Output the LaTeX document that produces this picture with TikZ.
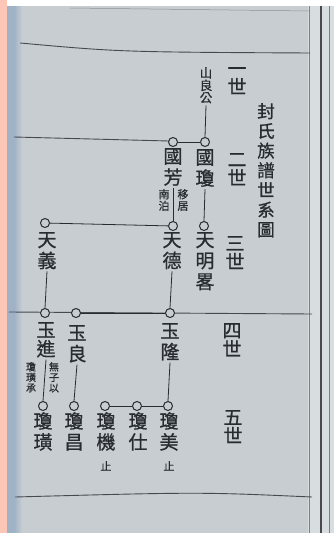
\documentclass[tikz,border=0pt]{standalone}
\usepackage{fontspec}
\newfontfamily\cjk[FakeBold=0.8]{Noto Sans CJK TC}
\definecolor{paper}{RGB}{199,205,209}
\definecolor{ink}{RGB}{40,44,48}
\definecolor{salmon}{RGB}{252,199,182}
\definecolor{edgeblue}{RGB}{160,178,198}
\definecolor{pageedge}{RGB}{216,221,224}
\definecolor{ruleink}{RGB}{70,74,78}
\tikzset{
  person/.style={font=\cjk\fontsize{19}{21}\selectfont, align=center, inner sep=0pt, anchor=north, text=ink},
  genlabel/.style={font=\cjk\fontsize{19}{18.5}\selectfont, align=center, inner sep=0pt, anchor=north, text=ink},
  titletext/.style={font=\cjk\fontsize{17.5}{19.7}\selectfont, align=center, inner sep=0pt, anchor=north, text=ink},
  smallnote/.style={font=\cjk\fontsize{11}{11.5}\selectfont, align=center, inner sep=0pt, anchor=north, text=ink},
  dot/.style={circle, draw=ink, line width=1pt, minimum size=9pt, inner sep=0pt, fill=paper},
  link/.style={draw=ink, line width=0.8pt},
  pagerule/.style={draw=ruleink, line width=0.9pt}
}
\begin{document}
\begin{tikzpicture}[x=1pt, y=-1pt]
  \useasboundingbox (0,0) rectangle (334,533);
  % Page background
  \fill[white] (0,0) rectangle (334,533);
  \fill[paper] (7,6) rectangle (334,533);
  \fill[edgeblue] (7,6) rectangle (14,533);
  \shade[left color=edgeblue, right color=paper] (14,6) rectangle (22,533);
  \fill[pageedge] (308,6) rectangle (334,533);
  \fill[salmon] (0,0) rectangle (7,533);
  \draw[ruleink, line width=1.6pt] (321,6) -- (321,533);
  \draw[ruleink!70, line width=0.5pt] (309,6) -- (309,533);
  \draw[ruleink!70, line width=0.5pt] (329,6) -- (329,533);
  % Ruled lines of the page
  \draw[pagerule] (20,43) .. controls (120,52) .. (310,53);
  \draw[ruleink!60, line width=0.5pt] (70,8) -- (310,11);
  \draw[pagerule] (9,312) -- (312,314);
  \draw[pagerule] (15,497) .. controls (200,492) .. (312,497);

  % Generation labels and title
  \node[genlabel] (g1) at (237,67) {一\\世};
  \node[genlabel] (g2) at (237,153) {二\\世};
  \node[genlabel] (g3) at (235,236) {三\\世};
  \node[genlabel] (g4) at (232,323) {四\\世};
  \node[genlabel] (g5) at (233,410) {五\\世};
  \node[titletext] (title) at (266,103) {封\\氏\\族\\譜\\世\\系\\圖};

  % First generation
  \node[smallnote, font=\cjk\fontsize{12.5}{11}\selectfont] (shan) at (206,67) {山\\良\\公};

  % Second generation
  \draw[pagerule] (14,137) -- (169,141);
  \node[dot] (c2a) at (173,142) {};
  \node[dot] (c2b) at (205,142) {};
  \node[person] (guofang) at (173,148) {國\\芳};
  \node[person] (guoqiong) at (205,149) {國\\瓊};
  \node[smallnote] (yiju) at (183,189) {移\\居};
  \node[smallnote] (nanbo) at (164,189) {南\\泊};

  % Third generation
  \node[dot] (c3a) at (45,223) {};
  \node[dot] (c3b) at (173,226) {};
  \node[dot] (c3c) at (204,226) {};
  \node[person] (tianyi) at (47,232) {天\\義};
  \node[person] (tiande) at (172,232) {天\\德};
  \node[person] (tianming) at (205,232) {天\\明\\畧};

  % Fourth generation
  \node[dot] (c4a) at (45,313) {};
  \node[dot] (c4b) at (76,313) {};
  \node[dot] (c4c) at (170,313) {};
  \node[person, font=\cjk\fontsize{19}{19}\selectfont] (yujin) at (46,322) {玉\\進};
  \node[person] (yuliang) at (77,325) {玉\\良};
  \node[person] (yulong) at (170,323) {玉\\隆};
  \node[smallnote, font=\cjk\fontsize{10}{10.5}\selectfont] (wuzi) at (54,362) {無\\子\\以};
  \node[smallnote, font=\cjk\fontsize{10}{10.5}\selectfont] (chengji) at (31,362) {瓊\\璜\\承};

  % Fifth generation
  \node[dot] (c5a) at (43,406) {};
  \node[dot] (c5b) at (74,406) {};
  \node[dot] (c5c) at (105,406) {};
  \node[dot] (c5d) at (137,406) {};
  \node[dot] (c5e) at (168,406) {};
  \node[person] (qhuang) at (43,412) {瓊\\璜};
  \node[person] (qchang) at (74,412) {瓊\\昌};
  \node[person] (qji) at (106,412) {瓊\\機};
  \node[person] (qshi) at (138,412) {瓊\\仕};
  \node[person] (qmei) at (169,412) {瓊\\美};
  \node[smallnote] (zhi1) at (106,461) {止};
  \node[smallnote] (zhi2) at (169,461) {止};

  % Lines of descent
  \draw[link] ([yshift=-2pt]shan.south) -- (c2b.north);
  \draw[link] (c2a) -- (c2b);
  \draw[link] ([yshift=-2pt]guofang.south) -- (c3b.north);
  \draw[link] ([yshift=-2pt]guoqiong.south) -- (c3c.north);
  \draw[link] (c3a) -- (c3b);
  \draw[link] ([yshift=-2pt]tianyi.south) -- (c4a.north);
  \draw[link] ([yshift=-2pt]tiande.south) -- (c4c.north);
  \draw[link] (c4b) -- (c4c);
  \draw[link] ([yshift=-2pt]yujin.south) -- (c5a.north);
  \draw[link] ([yshift=-2pt]yuliang.south) -- (c5b.north);
  \draw[link] ([yshift=-2pt]yulong.south) -- (c5e.north);
  \draw[link] (c5c) -- (c5d);
  \draw[link] (c5d) -- (c5e);
\end{tikzpicture}
\end{document}
